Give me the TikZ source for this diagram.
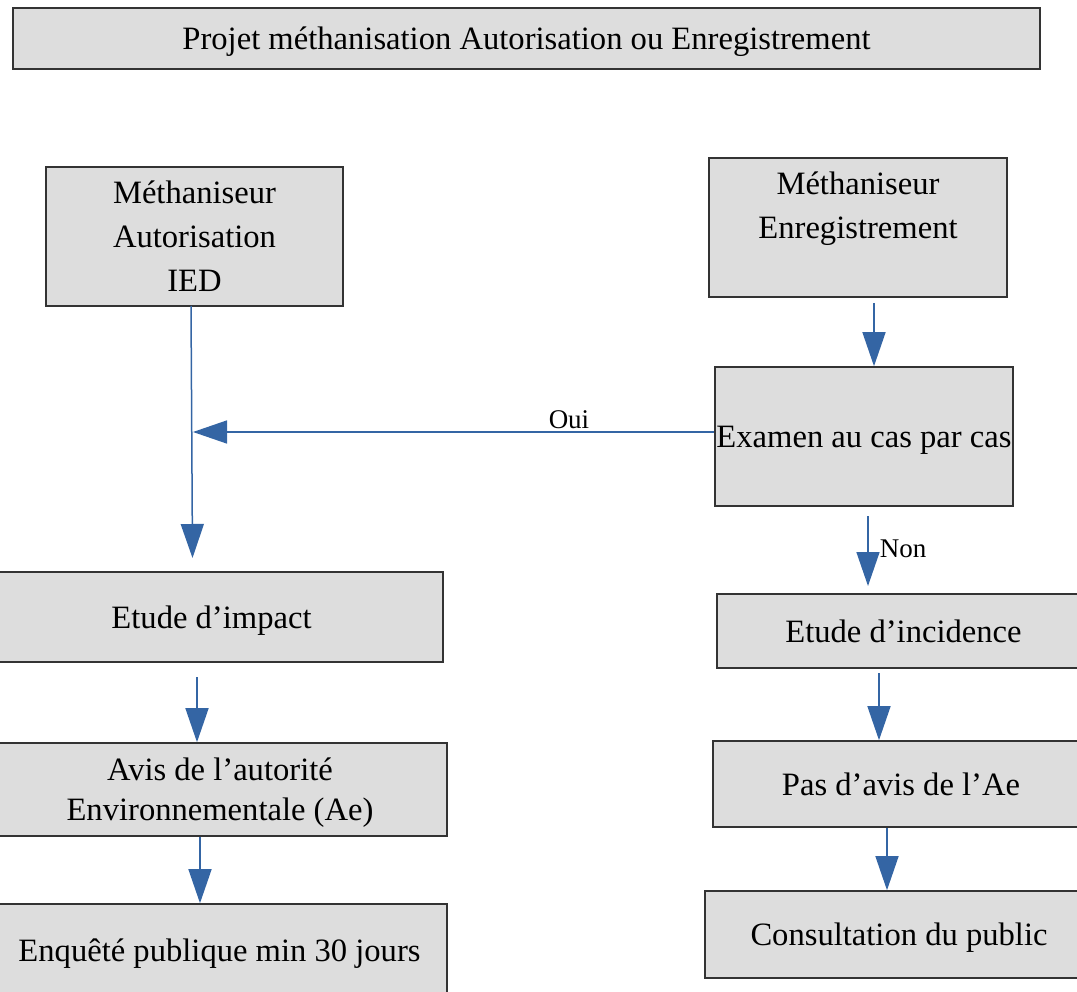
\documentclass[tikz,border=0pt]{standalone}
\usepackage{fontspec}
\setmainfont{Liberation Serif}
\usetikzlibrary{arrows.meta}
\definecolor{boxfill}{HTML}{DDDDDD}
\definecolor{boxline}{HTML}{333333}
\definecolor{arrblue}{HTML}{3465A4}
\tikzset{
  box/.style={draw=boxline, line width=1.6pt, fill=boxfill, rectangle, inner sep=0pt,
    align=center, font=\fontsize{32.6}{44}\selectfont},
  oneline/.style={text height=22.5pt, text depth=0pt},
  conn/.style={draw=arrblue, line width=1.5pt, -{Triangle[length=34pt,width=23pt]}},
  lbl/.style={inner sep=0pt, font=\fontsize{27}{30}\selectfont}
}
\begin{document}
\begin{tikzpicture}[x=1pt,y=-1pt]
\useasboundingbox (0,0) rectangle (1077,992);
% boxes
\node[box, oneline, minimum width=1027, minimum height=61] (title) at (526.5,38.5)
  {Projet méthanisation Autorisation ou Enregistrement};
\node[box, minimum width=297, minimum height=139] (A) at (194.5,236.5)
  {Méthaniseur\\Autorisation\\ IED};
\node[box, minimum width=298, minimum height=139] (B) at (858,227.5)
  {Méthaniseur\\Enregistrement\\\mbox{}};
\node[box, oneline, minimum width=298, minimum height=139] (C) at (864,436.5)
  {Examen au cas par cas};
\node[box, oneline, minimum width=463, minimum height=90] (D) at (211.5,617)
  {Etude d’impact};
\node[box, minimum width=454, minimum height=93, font=\fontsize{32.6}{40}\selectfont] (E) at (220,789.5)
  {Avis de l’autorité\\Environnementale \smash{(Ae)}};
\node[box, oneline, minimum width=455, minimum height=92] (F) at (219.5,950)
  {Enquêté publique min 30 jours};
\node[box, oneline, minimum width=373, minimum height=74] (G) at (903.5,631)
  {Etude d’incidence};
\node[box, oneline, minimum width=376, minimum height=86] (H) at (901,784)
  {Pas d’avis de l’Ae};
\node[box, oneline, minimum width=388, minimum height=87] (I) at (899,934.5)
  {Consultation du public};
% free connector ends
\coordinate (adTop) at (191,306);
\coordinate (adEnd) at (192.5,558);
\coordinate (ouiEnd) at (193,432);
\coordinate (bcTop) at (874,303);
\coordinate (cgTop) at (868,516);
\coordinate (cgEnd) at (868,586);
\coordinate (deTop) at (197,677);
\coordinate (ghTop) at (879,673);
% connectors
\draw[conn] (adTop) -- (adEnd);
\draw[conn] (C.west |- ouiEnd) -- (ouiEnd);
\node[lbl] (oui) at (569,420) {Oui};
\draw[conn] (bcTop) -- (C.north -| bcTop);
\draw[conn] (cgTop) -- (cgEnd);
\node[lbl] (non) at (903,549) {Non};
\draw[conn] (deTop) -- (E.north -| deTop);
\draw[conn] (E.south -| 200,0) -- (F.north -| 200,0);
\draw[conn] (ghTop) -- (H.north -| ghTop);
\draw[conn] (H.south -| 887,0) -- (I.north -| 887,0);
\end{tikzpicture}
\end{document}
